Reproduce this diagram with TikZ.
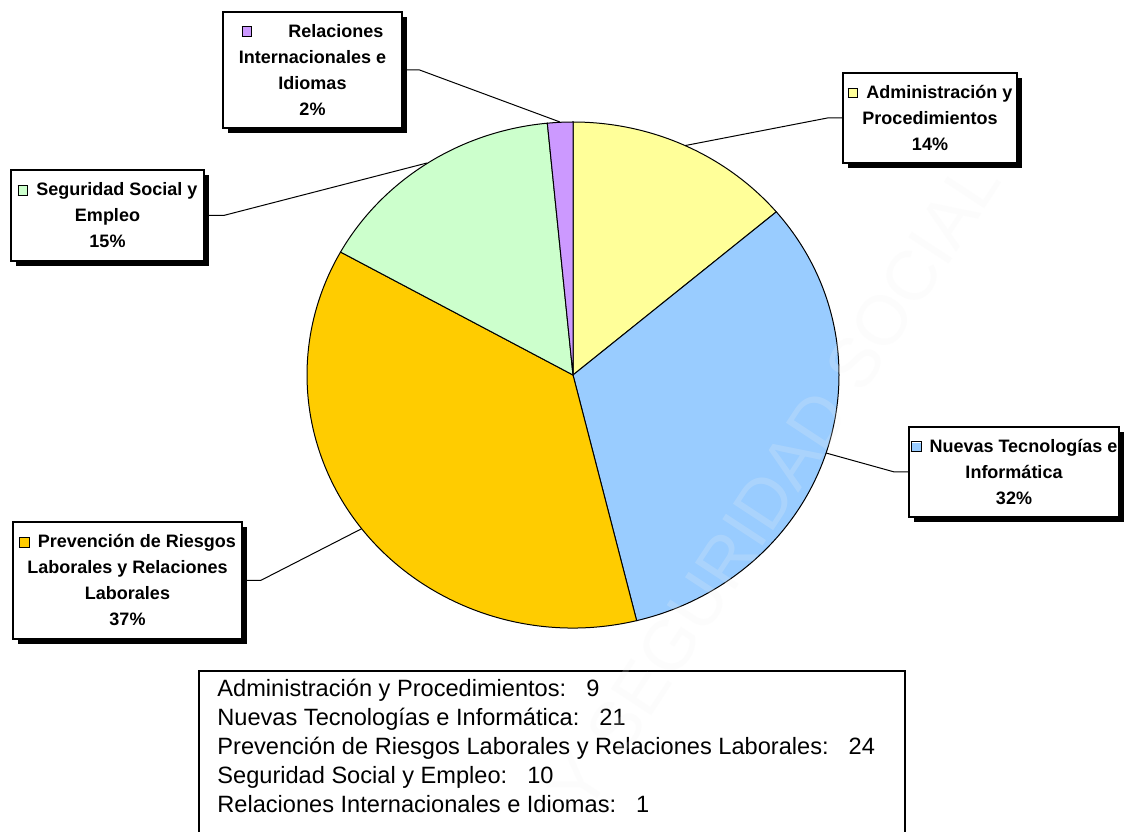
\documentclass[tikz,border=0pt]{standalone}
\usepackage{fontspec}
\setmainfont{Liberation Sans}
\usetikzlibrary{shadows}
\definecolor{admcol}{HTML}{FFFF99}
\definecolor{nuecol}{HTML}{99CCFF}
\definecolor{precol}{HTML}{FFCC00}
\definecolor{segcol}{HTML}{CCFFCC}
\definecolor{relcol}{HTML}{CC99FF}
\newcommand{\keysq}[1]{{\setlength{\fboxrule}{0.5pt}\setlength{\fboxsep}{0pt}\raisebox{0.6pt}{\fcolorbox{black}{#1}{\rule{0pt}{4.4pt}\hspace{4.4pt}}}}}
\tikzset{
  lblbox/.style={draw, line width=0.6pt, fill=white, align=center, inner sep=0pt,
    font=\bfseries\fontsize{9}{13}\selectfont,
    drop shadow={shadow xshift=2.5pt, shadow yshift=-2.5pt, fill=black, opacity=1}},
  leader/.style={line width=0.5pt},
  slice/.style={draw, line width=0.5pt}
}
\begin{document}
\begin{tikzpicture}[x=0.5pt,y=0.5pt]
			\fill[white] (0,0) rectangle (1125,831);
			\useasboundingbox (0,0) rectangle (1125,831);
			\clip (0,0) rectangle (1125,831);
			% pie
			\coordinate (c) at (573,456);
			\draw[slice, fill=admcol] (c) -- ++(90:266 and 253) arc[start angle=90, end angle=40.154, x radius=266, y radius=253] -- cycle;
			\draw[slice, fill=nuecol] (c) -- ++(40.154:266 and 253) arc[start angle=40.154, end angle=-76.154, x radius=266, y radius=253] -- cycle;
			\draw[slice, fill=precol] (c) -- ++(-76.154:266 and 253) arc[start angle=-76.154, end angle=-209.077, x radius=266, y radius=253] -- cycle;
			\draw[slice, fill=segcol] (c) -- ++(-209.077:266 and 253) arc[start angle=-209.077, end angle=-264.462, x radius=266, y radius=253] -- cycle;
			\draw[slice, fill=relcol] (c) -- ++(-264.462:266 and 253) arc[start angle=-264.462, end angle=-270, x radius=266, y radius=253] -- cycle;
			\coordinate (admm) at (685,685.4);
			\coordinate (nuem) at (826,378);
			\coordinate (prem) at (361.7,302.3);
			\coordinate (segm) at (427,668);
			\coordinate (relm) at (560,709);
			% labels
			\node[lblbox, minimum width=89.5pt, minimum height=58pt] (rel) at (312.5,761) {\keysq{relcol}\hspace{18pt}Relaciones\hspace{14pt}\\Internacionales e\\Idiomas\\2\%};
			\node[lblbox, minimum width=87pt, minimum height=45pt] (adm) at (930,713) {\keysq{admcol}\hspace{4pt}Administración y\\Procedimientos\\14\%};
			\node[lblbox, minimum width=96.5pt, minimum height=45.5pt] (seg) at (107.5,615.5) {\keysq{segcol}\hspace{4pt}Seguridad Social y\\Empleo\\15\%};
			\node[lblbox, minimum width=114.5pt, minimum height=58.5pt] (pre) at (127.5,250.5) {\keysq{precol}\hspace{4pt}Prevención de Riesgos\\Laborales y Relaciones\\Laborales\\37\%};
			\node[lblbox, minimum width=105pt, minimum height=45pt] (nue) at (1014,359) {\keysq{nuecol}\hspace{4pt}Nuevas Tecnologías e\\Informática\\32\%};
			\draw[leader] (rel.east) -- ++(17,0) -- (relm);
			\draw[leader] (adm.west) -- ++(-15,0) -- (admm);
			\draw[leader] (seg.east) -- ++(19,0) -- (segm);
			\draw[leader] (pre.east) -- ++(18,0) -- (prem);
			\draw[leader] (nue.west) -- ++(-14,0) -- (nuem);
			% data table
			\draw[line width=0.8pt] (199,-20) rectangle (905,160);
			\node[anchor=west, align=left, inner sep=0pt, font=\fontsize{11.8}{14.5}\selectfont] (leg) at (217,85) {Administración y Procedimientos:\hspace{0.85em}9\\Nuevas Tecnologías e Informática:\hspace{0.85em}21\\Prevención de Riesgos Laborales y Relaciones Laborales:\hspace{0.85em}24\\Seguridad Social y Empleo:\hspace{0.85em}10\\Relaciones Internacionales e Idiomas:\hspace{0.85em}1};
			% watermark
			\node[rotate=56.7, text=gray!10, text opacity=0.2, font=\fontsize{35}{35}\selectfont] (wmark) at (775,346) {Y SEGURIDAD SOCIAL};
		\end{tikzpicture}
\end{document}
